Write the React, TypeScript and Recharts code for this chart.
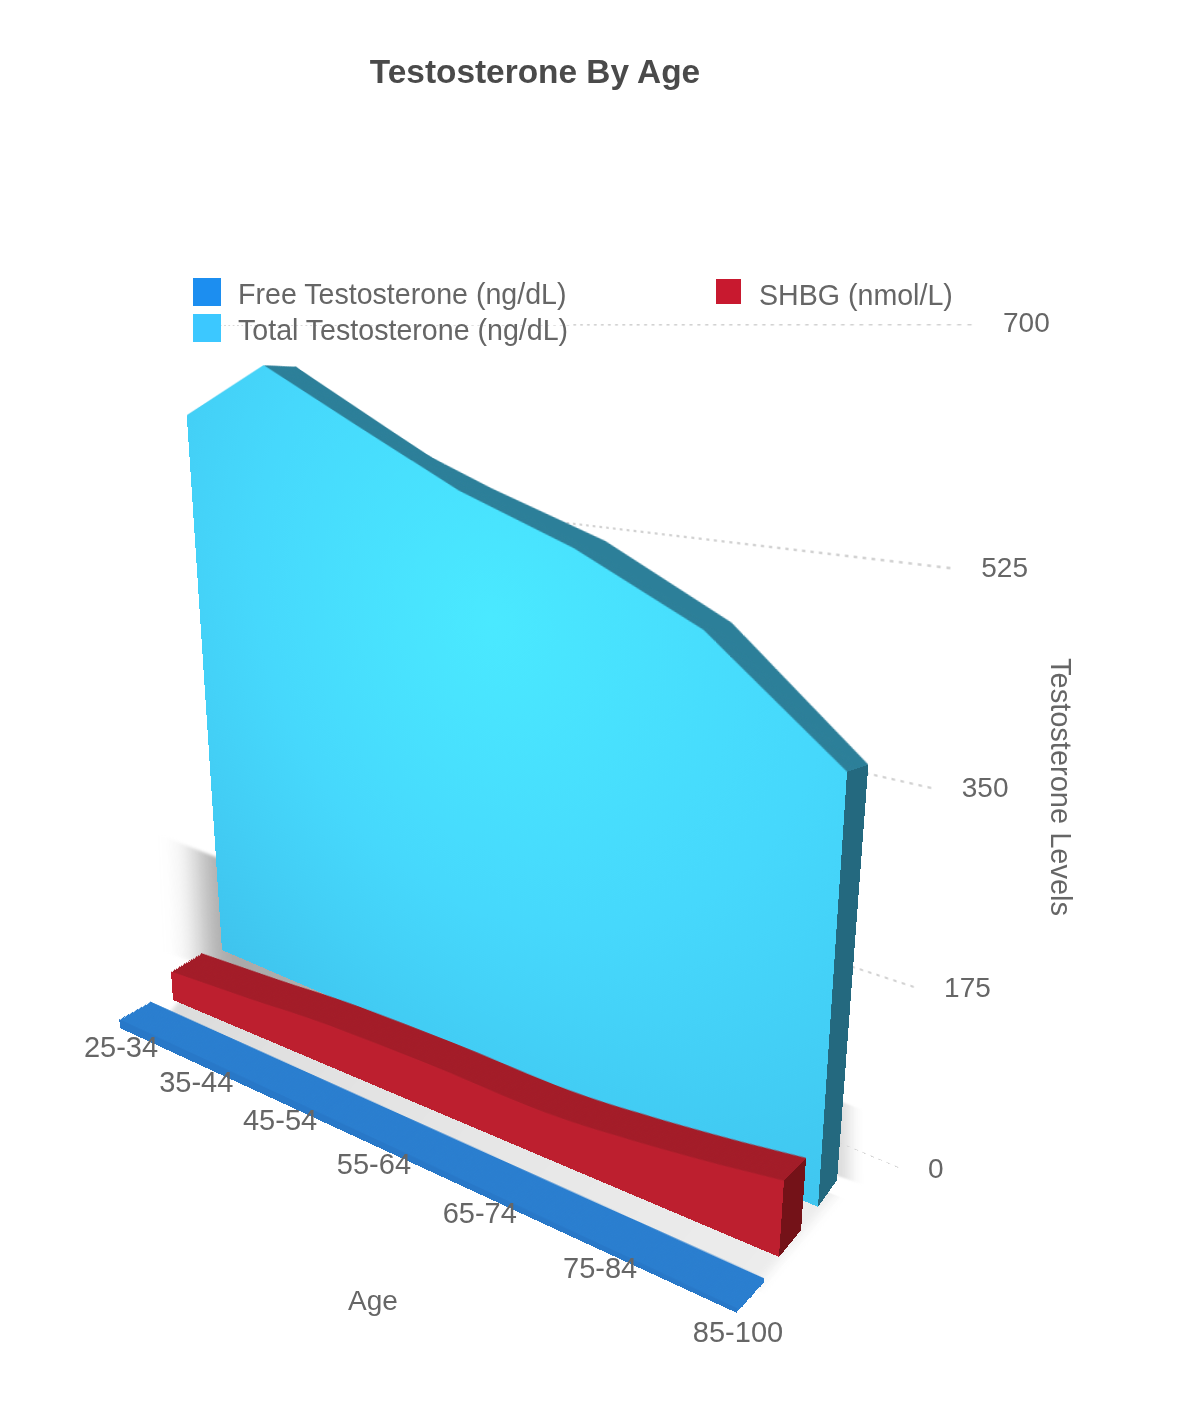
import React from 'react';
import { AreaChart, Area, LineChart, Line, XAxis, YAxis, CartesianGrid } from 'recharts';

const ageGroups = ['25-34', '35-44', '45-54', '55-64', '65-74', '75-84', '85-100'];
const totalT = [612, 663, 609, 556, 516, 463, 372];
const totalBackEdge = [612, 663, 603, 564, 530, 477, 382];
const shbg = [33, 38, 44, 45, 43, 51, 66];
const freeT = [10, 9, 8, 7, 6, 5, 4];
const levelTicks = [0, 175, 350, 525, 700];
const fullHeight = [700, 700, 700, 700, 700, 700, 700];

const W = 600;
const H = 700;
const FONT = '"Liberation Sans", Arial, sans-serif';

type Pt = [number, number];
type Quad = { lt: Pt; rt: Pt; rb: Pt; lb: Pt };
type Curve = 'linear' | 'monotone';

// each face of the fake 3d is a flat chart pushed into place with a css homography
const homography = (q: Quad) => {
  const [x0, y0] = q.lt, [x1, y1] = q.rt, [x2, y2] = q.rb, [x3, y3] = q.lb;
  const dx1 = x1 - x2, dx2 = x3 - x2, sx = x0 - x1 + x2 - x3;
  const dy1 = y1 - y2, dy2 = y3 - y2, sy = y0 - y1 + y2 - y3;
  const den = dx1 * dy2 - dx2 * dy1;
  const g = (sx * dy2 - dx2 * sy) / den;
  const h = (dx1 * sy - sx * dy1) / den;
  return { a: x1 - x0 + g * x1, b: x3 - x0 + h * x3, c: x0, d: y1 - y0 + g * y1, e: y3 - y0 + h * y3, f: y0, g, h };
};
const matrix = (q: Quad) => {
  const m = homography(q);
  return `matrix3d(${[m.a / W, m.d / W, 0, m.g / W, m.b / H, m.e / H, 0, m.h / H, 0, 0, 1, 0, m.c, m.f, 0, 1].join(',')})`;
};
const project = (q: Quad, s: number, value: number): Pt => {
  const m = homography(q);
  const v = 1 - value / 700;
  const w = m.g * s + m.h * v + 1;
  return [(m.a * s + m.b * v + m.c) / w, (m.d * s + m.e * v + m.f) / w];
};
const lerpQuad = (a: Quad, b: Quad, t: number): Quad => {
  const l = (p: Pt, r: Pt): Pt => [p[0] + (r[0] - p[0]) * t, p[1] + (r[1] - p[1]) * t];
  return { lt: l(a.lt, b.lt), rt: l(a.rt, b.rt), rb: l(a.rb, b.rb), lb: l(a.lb, b.lb) };
};

const gridWall: Quad = { lt: [195, 325], rt: [978, 324], rb: [903, 1170], lb: [240, 891] };
const totalFront: Quad = { lt: [181, 328], rt: [878, 309], rb: [818, 1207], lb: [222, 950] };
const totalBack: Quad = { lt: [211, 326], rt: [900, 346], rb: [837, 1180], lb: [252, 930] };
const shbgFront: Quad = { lt: [123, 305], rt: [843, 281], rb: [779, 1257], lb: [173, 1000] };
const shbgBack: Quad = { lt: [160, 330], rt: [865, 318], rb: [801, 1230], lb: [203, 980] };
const freeFront: Quad = { lt: [58, 296], rt: [800, 250], rb: [737, 1313], lb: [120, 1028] };
const freeBack: Quad = { lt: [98, 329], rt: [828, 290], rb: [764, 1283], lb: [151, 1010] };
const shadeWall: Quad = { lt: [198, 850], rt: [850, 1105], rb: [850, 1180], lb: [203, 965] };
const shadeFloor: Quad = { lt: [215, 960], rt: [835, 1195], rb: [755, 1290], lb: [165, 1018] };

const asRows = (values: number[]) => ageGroups.map((age, i) => ({ age, value: values[i] }));

const Face = ({ quad, values, fill, defs, blur, curve = 'linear' }: { quad: Quad; values: number[]; fill: string; defs?: React.ReactNode; blur?: number; curve?: Curve }) => (
  <div style={{ position: 'absolute', left: 0, top: 0, width: W, height: H, transformOrigin: '0 0', transform: matrix(quad), filter: blur ? `blur(${blur}px)` : undefined }}>
    <AreaChart width={W} height={H} data={asRows(values)} margin={{ top: 0, right: 0, bottom: 0, left: 0 }}>
      {defs}
      <XAxis dataKey="age" hide />
      <YAxis hide domain={[0, 700]} />
      <Area type={curve} dataKey="value" stroke="none" fill={fill} fillOpacity={1} isAnimationActive={false} />
    </AreaChart>
  </div>
);

// end of a bar: a flat chart with two points running from front to back
const Cap = ({ front, back, value, backValue, fill }: { front: Quad; back: Quad; value: number; backValue: number; fill: string }) => (
  <div
    style={{
      position: 'absolute',
      left: 0,
      top: 0,
      width: W,
      height: H,
      transformOrigin: '0 0',
      transform: matrix({ lt: project(front, 1, value), rt: project(back, 1, backValue), rb: project(back, 1, 0), lb: project(front, 1, 0) }),
    }}
  >
    <AreaChart width={W} height={H} data={[{ z: 'front', value }, { z: 'back', value }]} margin={{ top: 0, right: 0, bottom: 0, left: 0 }}>
      <XAxis dataKey="z" hide />
      <YAxis hide domain={[0, value]} />
      <Area type="linear" dataKey="value" stroke="none" fill={fill} fillOpacity={1} isAnimationActive={false} />
    </AreaChart>
  </div>
);

const Stack = ({ front, back, values, fill, steps, curve }: { front: Quad; back: Quad; values: number[]; fill: string; steps: number; curve?: Curve }) => (
  <>
    {Array.from({ length: steps }, (_, i) => (
      <Face key={i} quad={lerpQuad(front, back, 1 - i / steps)} values={values} fill={fill} curve={curve} />
    ))}
  </>
);

const AgeTick = ({ payload }: any) => {
  const [x, y] = project(freeFront, payload.index / 6, 0);
  return <text x={x + 1} y={y + 29} textAnchor="middle" fontFamily={FONT} fontSize={29} fill="#666">{payload.value}</text>;
};
const LevelTick = ({ payload }: any) => {
  const [x, y] = project(gridWall, 1, payload.value);
  return <text x={x + 25} y={y + 8} textAnchor="start" fontFamily={FONT} fontSize={28} fill="#666">{payload.value}</text>;
};

const legendItems = [
  { name: 'Free Testosterone (ng/dL)', color: '#1c8ef0', x: 193, y: 278, w: 28, tx: 238 },
  { name: 'Total Testosterone (ng/dL)', color: '#3cc8ff', x: 193, y: 314, w: 28, tx: 238 },
  { name: 'SHBG (nmol/L)', color: '#c8192f', x: 716, y: 279, w: 25, tx: 759 },
];

export default function App() {
  return (
    <div style={{ position: 'absolute', left: 0, top: 0, width: 1186, height: 1425, overflow: 'hidden', background: '#fff', filter: 'blur(0.6px)' }}>
      <div style={{ position: 'absolute', left: 0, top: 0, width: W, height: H, transformOrigin: '0 0', transform: matrix(gridWall) }}>
        <AreaChart width={W} height={H} data={asRows(fullHeight)} margin={{ top: 0, right: 0, bottom: 0, left: 0 }} style={{ overflow: 'visible' }}>
          <CartesianGrid vertical={false} stroke="#d2d2d2" strokeWidth={2} strokeDasharray="2 3" />
          <XAxis dataKey="age" hide />
          <YAxis hide domain={[0, 700]} ticks={levelTicks} />
          <Area type="linear" dataKey="value" stroke="none" fill="none" isAnimationActive={false} />
        </AreaChart>
      </div>

      <Face
        quad={shadeWall}
        values={fullHeight}
        fill="url(#wallShade)"
        blur={10}
        defs={
          <defs>
            <linearGradient id="wallShade" x1="0" y1="0" x2="1" y2="0">
              <stop offset="0" stopColor="#a8a8a8" />
              <stop offset="1" stopColor="#dedede" />
            </linearGradient>
          </defs>
        }
      />
      <Face
        quad={shadeFloor}
        values={fullHeight}
        fill="url(#floorShade)"
        blur={3}
        defs={
          <defs>
            <linearGradient id="floorShade" x1="0" y1="0" x2="1" y2="0">
              <stop offset="0" stopColor="#dcdcdc" />
              <stop offset="1" stopColor="#ececec" />
            </linearGradient>
          </defs>
        }
      />

      <Face quad={totalBack} values={totalBackEdge} fill="#2c7f99" />
      <Stack front={totalFront} back={totalBack} values={totalT} fill="#2c7f99" steps={18} />
      <Cap front={totalFront} back={totalBack} value={totalT[6]} backValue={totalBackEdge[6]} fill="#24697f" />
      <Face
        quad={totalFront}
        values={totalT}
        fill="url(#totalFill)"
        defs={
          <defs>
            <radialGradient id="totalFill" cx="0.55" cy="0.33" r="0.85">
              <stop offset="0" stopColor="#4ae9ff" />
              <stop offset="0.5" stopColor="#46d8fc" />
              <stop offset="1" stopColor="#3fc4ee" />
            </radialGradient>
          </defs>
        }
      />

      <Stack front={freeFront} back={freeBack} values={freeT} fill="#2a7ecf" steps={24} />
      <Face quad={freeFront} values={freeT} fill="#2878c8" />

      <Stack front={shbgFront} back={shbgBack} values={shbg} fill="#a31c28" steps={18} curve="monotone" />
      <Cap front={shbgFront} back={shbgBack} value={shbg[6]} backValue={shbg[6]} fill="#741218" />
      <Face quad={shbgFront} values={shbg} fill="#bd1f2f" curve="monotone" />

      <div style={{ position: 'absolute', left: 0, top: 0 }}>
        <LineChart width={1186} height={1425} data={asRows(totalT)} margin={{ top: 0, right: 0, bottom: 0, left: 0 }}>
          <XAxis dataKey="age" interval={0} axisLine={false} tickLine={false} tick={AgeTick} height={1} />
          <YAxis domain={[0, 700]} ticks={levelTicks} interval={0} axisLine={false} tickLine={false} tick={LevelTick} width={1} />
          <Line dataKey="value" stroke="none" dot={false} isAnimationActive={false} />
          <text x={535} y={83} textAnchor="middle" fontFamily={FONT} fontSize={33.4} fontWeight="bold" fill="#4a4a4a">Testosterone By Age</text>
          {legendItems.map((d) => (
            <g key={d.name}>
              <rect x={d.x} y={d.y} width={d.w} height={d.w} fill={d.color} />
              <text x={d.tx} y={d.y + 26} fontFamily={FONT} fontSize={28.6} fill="#666">{d.name}</text>
            </g>
          ))}
          <text x={373} y={1310} textAnchor="middle" fontFamily={FONT} fontSize={28} fill="#666">Age</text>
          <text x={1051} y={787} textAnchor="middle" fontFamily={FONT} fontSize={29} fill="#666" transform="rotate(90 1051 787)">Testosterone Levels</text>
        </LineChart>
      </div>
    </div>
  );
}
